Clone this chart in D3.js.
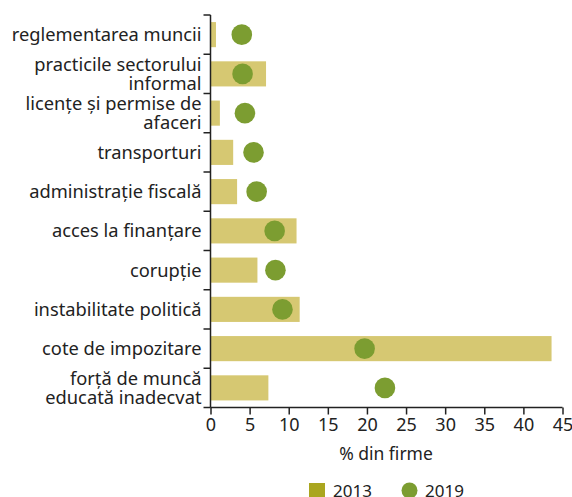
<!DOCTYPE html>
<html><head><meta charset="utf-8">
<script src="https://cdn.jsdelivr.net/npm/d3@7"></script>
<style>body{margin:0;background:#fff;} text{font-family:"Noto Sans",sans-serif;fill:#222;}</style>
</head><body><svg id="c" width="572" height="497"></svg>
<script>
const categories = [
  ["reglementarea muncii"],
  ["practicile sectorului","informal"],
  ["licențe și permise de","afaceri"],
  ["transporturi"],
  ["administrație fiscală"],
  ["acces la finanțare"],
  ["corupție"],
  ["instabilitate politică"],
  ["cote de impozitare"],
  ["forță de muncă","educată inadecvat"]
];
const values2013 = [0.7, 7.1, 1.2, 2.9, 3.4, 11.0, 6.0, 11.4, 43.6, 7.4];
const values2019 = [4.0, 4.1, 4.4, 5.5, 5.9, 8.2, 8.3, 9.2, 19.7, 22.3];
const xTicks = [0,5,10,15,20,25,30,35,40,45];
const seriesNames = ["2013","2019"];

const svg = d3.select("#c");
const m = {l:210.5, r:562.5, t:15, b:407.5};
const x = d3.scaleLinear().domain([0,45]).range([m.l, m.r]);
const keys = categories.map((c,i)=>i);
const y = d3.scaleBand().domain(keys).range([m.t, m.b]).paddingInner(0.36).paddingOuter(0.18);
const yEdge = d3.scaleLinear().domain([0,10]).range([m.t, m.b]);

const barColor = "#d6c872", dotColor = "#7c9d31", legendBar = "#aaa61f";

svg.append("g").selectAll("rect").data(values2013).join("rect")
  .attr("x", x(0)).attr("y",(d,i)=>y(i)).attr("width",d=>x(d)-x(0)).attr("height",y.bandwidth())
  .attr("fill",barColor);

svg.append("g").selectAll("circle").data(values2019).join("circle")
  .attr("cx",d=>x(d)).attr("cy",(d,i)=>y(i)+y.bandwidth()/2).attr("r",10.3)
  .attr("fill",dotColor);

// y axis
const ya = svg.append("g");
ya.append("line").attr("x1",m.l).attr("x2",m.l).attr("y1",m.t).attr("y2",m.b).attr("stroke","#222").attr("stroke-width",1.5);
ya.selectAll("line.t").data(d3.range(11)).join("line").attr("class","t")
  .attr("x1",m.l-7).attr("x2",m.l).attr("y1",d=>yEdge(d)).attr("y2",d=>yEdge(d)).attr("stroke","#222").attr("stroke-width",1.5);
categories.forEach((lines,i)=>{
  const cy = y(i)+y.bandwidth()/2;
  const lh = 19.5;
  const t = ya.append("text").attr("text-anchor","end").attr("font-size",18.3);
  lines.forEach((s,j)=>{
    t.append("tspan").attr("x",m.l-9).attr("y", cy + (j-(lines.length-1)/2)*lh + 6.6).text(s);
  });
});

// x axis
const xa = svg.append("g").attr("transform",`translate(0,${m.b})`)
  .call(d3.axisBottom(x).tickValues(xTicks).tickSize(7).tickPadding(4).tickFormat(d3.format("d")));
xa.select(".domain").attr("stroke","#222").attr("stroke-width",1.5).attr("d",`M${m.l},0H${m.r}`);
xa.selectAll(".tick line").attr("stroke","#222").attr("stroke-width",1.5);
xa.selectAll(".tick text").attr("font-size",18).attr("fill","#222").style("font-family","Noto Sans");

svg.append("text").attr("x",386).attr("y",460).attr("text-anchor","middle").attr("font-size",17.5).text("% din firme");

// legend
const lg = svg.append("g");
lg.append("rect").attr("x",309).attr("y",483).attr("width",16).attr("height",16).attr("fill",legendBar);
lg.append("text").attr("x",333).attr("y",496.5).attr("font-size",17).text(seriesNames[0]);
lg.append("circle").attr("cx",409.5).attr("cy",490.5).attr("r",8).attr("fill",dotColor);
lg.append("text").attr("x",425).attr("y",496.5).attr("font-size",17).text(seriesNames[1]);
</script></body></html>
